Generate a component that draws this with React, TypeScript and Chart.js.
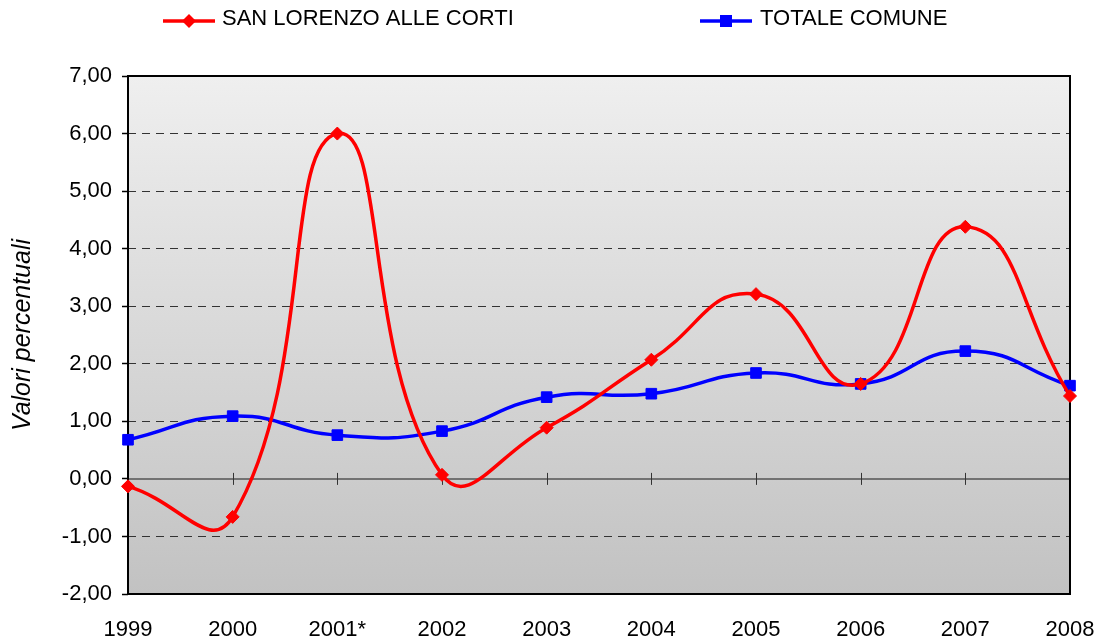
import React, { useEffect, useRef } from "react";
import { Chart, registerables } from "chart.js";

Chart.register(...registerables);

const categories = ["1999", "2000", "2001*", "2002", "2003", "2004", "2005", "2006", "2007", "2008"];
const sanLorenzo = [-0.13, -0.66, 6.0, 0.07, 0.89, 2.07, 3.21, 1.65, 4.38, 1.44];
const totaleComune = [0.68, 1.09, 0.76, 0.83, 1.42, 1.48, 1.84, 1.65, 2.22, 1.62];
const seriesNames = ["SAN LORENZO ALLE CORTI", "TOTALE COMUNE"];
const yTitle = "Valori percentuali";

const FONT = "'Liberation Sans', Arial, sans-serif";

const bgPlugin = {
  id: "bgPlugin",
  beforeDraw(chart: any) {
    const { ctx, chartArea: a } = chart;
    ctx.save();
    const g = ctx.createLinearGradient(0, a.top, 0, a.bottom);
    g.addColorStop(0, "#efefef");
    g.addColorStop(1, "#c2c2c2");
    ctx.fillStyle = g;
    ctx.fillRect(a.left, a.top, a.right - a.left, a.bottom - a.top);
    ctx.restore();
  },
  beforeDatasetsDraw(chart: any) {
    const { ctx, chartArea: a, scales } = chart;
    const y0 = scales.y.getPixelForValue(0);
    ctx.save();
    ctx.strokeStyle = "#555555";
    ctx.lineWidth = 1.5;
    ctx.beginPath();
    ctx.moveTo(a.left, y0);
    ctx.lineTo(a.right, y0);
    ctx.stroke();
    ctx.strokeStyle = "#333333";
    ctx.lineWidth = 1;
    for (let i = 0; i < categories.length; i++) {
      const x = Math.round(scales.x.getPixelForValue(i)) + 0.5;
      ctx.beginPath();
      ctx.moveTo(x, y0 - 6);
      ctx.lineTo(x, y0 + 6);
      ctx.stroke();
    }
    ctx.strokeStyle = "#000000";
    ctx.lineWidth = 2;
    ctx.strokeRect(a.left, a.top, a.right - a.left, a.bottom - a.top);
    ctx.restore();
  },
  afterDraw(chart: any) {
    const { ctx } = chart;
    ctx.save();
    const items = [
      { x1: 163, x2: 215, tx: 222, color: "#ff0000", style: "diamond", name: seriesNames[0] },
      { x1: 700, x2: 752, tx: 760, color: "#0000ff", style: "square", name: seriesNames[1] },
    ];
    for (const it of items) {
      const ly = 21;
      ctx.strokeStyle = it.color;
      ctx.lineWidth = 3.5;
      ctx.beginPath();
      ctx.moveTo(it.x1, ly);
      ctx.lineTo(it.x2, ly);
      ctx.stroke();
      ctx.fillStyle = it.color;
      const cx = (it.x1 + it.x2) / 2;
      ctx.beginPath();
      if (it.style === "diamond") {
        ctx.moveTo(cx - 7, ly);
        ctx.lineTo(cx, ly - 7);
        ctx.lineTo(cx + 7, ly);
        ctx.lineTo(cx, ly + 7);
        ctx.closePath();
      } else {
        ctx.rect(cx - 6, ly - 6, 12, 12);
      }
      ctx.fill();
      ctx.fillStyle = "#000000";
      ctx.font = `22px ${FONT}`;
      ctx.textAlign = "left";
      ctx.textBaseline = "middle";
      ctx.fillText(it.name, it.tx, 19);
    }
    ctx.restore();
  },
};

export default function App() {
  const ref = useRef<HTMLCanvasElement | null>(null);
  useEffect(() => {
    if (!ref.current) return;
    const chart = new Chart(ref.current, {
      type: "line",
      data: {
        labels: categories,
        datasets: [
          {
            label: seriesNames[0],
            data: sanLorenzo,
            borderColor: "#ff0000",
            backgroundColor: "#ff0000",
            borderWidth: 3.5,
            tension: 0.5,
            pointStyle: "rectRot",
            pointRadius: 6.5,
            pointBorderWidth: 1,
            fill: false,
          },
          {
            label: seriesNames[1],
            data: totaleComune,
            borderColor: "#0000ff",
            backgroundColor: "#0000ff",
            borderWidth: 3.5,
            tension: 0.5,
            pointStyle: "rect",
            pointRadius: 7.5,
            pointBorderWidth: 1,
            fill: false,
          },
        ],
      },
      options: {
        animation: false,
        responsive: false,
        maintainAspectRatio: false,
        layout: { padding: { top: 76, right: 31, left: 0, bottom: 0 } },
        plugins: { legend: { display: false }, tooltip: { enabled: false } },
        scales: {
          x: {
            type: "category",
            offset: false,
            grid: { display: false, drawTicks: false },
            border: { display: false },
            ticks: { color: "#000", font: { family: FONT, size: 22 }, padding: 23, maxRotation: 0, autoSkip: false },
            afterFit(scale: any) {
              scale.height = 50;
              scale.paddingLeft = 0;
              scale.paddingRight = 0;
            },
          },
          y: {
            min: -2,
            max: 7,
            ticks: {
              stepSize: 1,
              color: "#000",
              font: { family: FONT, size: 22 },
              padding: 10,
              callback: (v: any) => Number(v).toFixed(2).replace(".", ","),
            },
            grid: {
              color: (c: any) => {
                const v = c.tick ? c.tick.value : null;
                return v === 0 || v === 7 || v === -2 ? "rgba(0,0,0,0)" : "#333333";
              },
              lineWidth: 1,
              tickColor: "#000000",
              tickLength: 6,
              tickBorderDash: [],
              tickWidth: 1.5,
            },
            border: { display: false, dash: [8, 6] },
            title: {
              display: true,
              text: yTitle,
              color: "#000",
              font: { family: FONT, size: 25, style: "italic" },
              padding: { top: 8, bottom: 0 },
            },
            afterFit(scale: any) {
              scale.width = 128;
              scale.paddingTop = 0;
              scale.paddingBottom = 0;
            },
          },
        },
      },
      plugins: [bgPlugin],
    });
    return () => chart.destroy();
  }, []);
  return (
    <div style={{ position: "fixed", left: 0, top: 0, width: 1101, height: 644 }}>
      <canvas ref={ref} width={1101} height={644} style={{ width: 1101, height: 644, display: "block" }} />
    </div>
  );
}
